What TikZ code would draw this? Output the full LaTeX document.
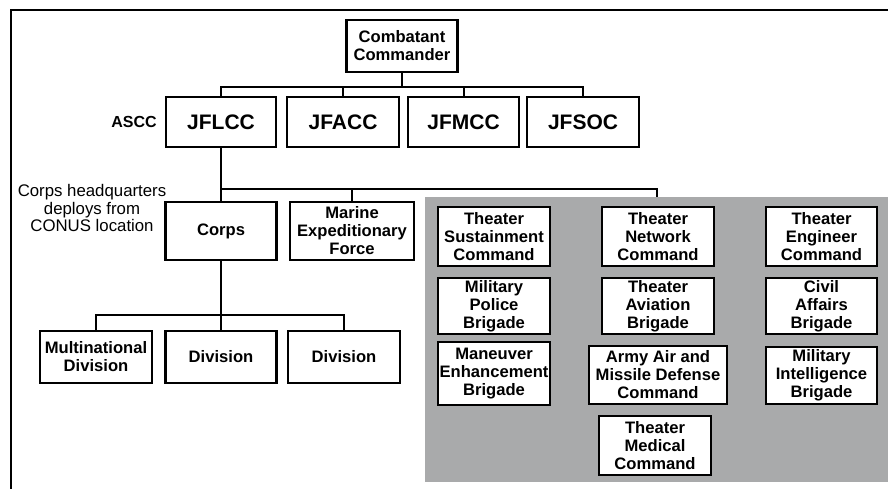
\documentclass[tikz,border=0pt]{standalone}
\usepackage{fontspec}
\setmainfont{Liberation Sans}
\definecolor{poolgray}{RGB}{169,170,171}
\begin{document}
\begin{tikzpicture}[x=1pt,y=-1pt,
  unitbox/.style={draw=black, line width=2.2pt, fill=white, align=center,
    inner sep=0pt, font=\bfseries\fontsize{16.6}{18}\selectfont},
  bigbox/.style={unitbox, font=\bfseries\fontsize{21}{24}\selectfont},
  link/.style={draw=black, line width=2pt},
  note/.style={align=center, inner sep=0pt}]
  % canvas and frame
  \useasboundingbox (0,0) rectangle (888,489);
  \fill[white] (0,0) rectangle (888,489);
  \draw[line width=2.2pt] (11,489) -- (11,10) -- (888,10);

  % shaded pool of theater-level units
  \node[fill=poolgray, inner sep=0pt, minimum width=463pt, minimum height=285pt, anchor=north west]
    (pool) at (425,197) {};
  \coordinate (poolin) at (657,197);

  % top level
  \node[unitbox, minimum width=111pt, minimum height=52pt] (cc) at (402,46) {Combatant\\Commander};

  % component commands
  \node[bigbox, minimum width=110pt, minimum height=50pt] (jflcc) at (221,122) {JFLCC};
  \node[bigbox, minimum width=112pt, minimum height=50pt] (jfacc) at (343,122) {JFACC};
  \node[bigbox, minimum width=111pt, minimum height=50pt] (jfmcc) at (463.5,122) {JFMCC};
  \node[bigbox, minimum width=112pt, minimum height=50pt] (jfsoc) at (583,122) {JFSOC};
  \node[note, font=\bfseries\fontsize{16}{18}\selectfont] (ascc) at (134,122) {ASCC};

  % corps level
  \node[unitbox, minimum width=111pt, minimum height=58pt] (corps) at (221,231) {Corps};
  \node[unitbox, minimum width=124pt, minimum height=58pt] (mef) at (352,231) {Marine\\Expeditionary\\Force};
  \node[note, font=\fontsize{16.8}{17.5}\selectfont] (corpsnote) at (92,208)
    {Corps headquarters\\deploys from\\CONUS location};

  % divisions
  \node[unitbox, minimum width=112pt, minimum height=52pt] (mnd) at (96,357) {Multinational\\Division};
  \node[unitbox, minimum width=111pt, minimum height=52pt] (div1) at (221,357) {Division};
  \node[unitbox, minimum width=112pt, minimum height=52pt] (div2) at (344,357) {Division};

  % theater-level units
  \node[unitbox, minimum width=112pt, minimum height=59pt] (tsc) at (494,236.5) {Theater\\Sustainment\\Command};
  \node[unitbox, minimum width=112pt, minimum height=59pt] (tnc) at (658,236.5) {Theater\\Network\\Command};
  \node[unitbox, minimum width=111pt, minimum height=59pt] (tec) at (821.5,236.5) {Theater\\Engineer\\Command};
  \node[unitbox, minimum width=112pt, minimum height=56pt] (mpb) at (494,306) {Military\\Police\\Brigade};
  \node[unitbox, minimum width=112pt, minimum height=56pt] (tab) at (658,306) {Theater\\Aviation\\Brigade};
  \node[unitbox, minimum width=111pt, minimum height=56pt] (cab) at (821.5,306) {Civil\\Affairs\\Brigade};
  \node[unitbox, minimum width=112pt, minimum height=63pt] (meb) at (494,373.5) {Maneuver\\Enhancement\\Brigade};
  \node[unitbox, minimum width=138pt, minimum height=58pt] (aamdc) at (658,375) {Army Air and\\Missile Defense\\Command};
  \node[unitbox, minimum width=111pt, minimum height=57pt] (mib) at (821.5,375.5) {Military\\Intelligence\\Brigade};
  \node[unitbox, minimum width=112pt, minimum height=59pt] (tmc) at (655,445.5) {Theater\\Medical\\Command};

  % connectors
  \coordinate (bus1) at (402,87);
  \coordinate (bus2) at (221,189);
  \coordinate (bus3) at (221,315);
  \draw[link] (cc.south) -- (bus1);
  \draw[link] (jflcc.north) |- (bus1) -| (jfsoc.north);
  \draw[link] (jfacc.north) |- (bus1);
  \draw[link] (jfmcc.north) |- (bus1);
  \draw[link] (jflcc.south) -- (corps.north);
  \draw[link] (mef.north) |- (bus2) -| (poolin);
  \draw[link] (corps.south) -- (div1.north);
  \draw[link] (mnd.north) |- (bus3) -| (div2.north);
\end{tikzpicture}
\end{document}
